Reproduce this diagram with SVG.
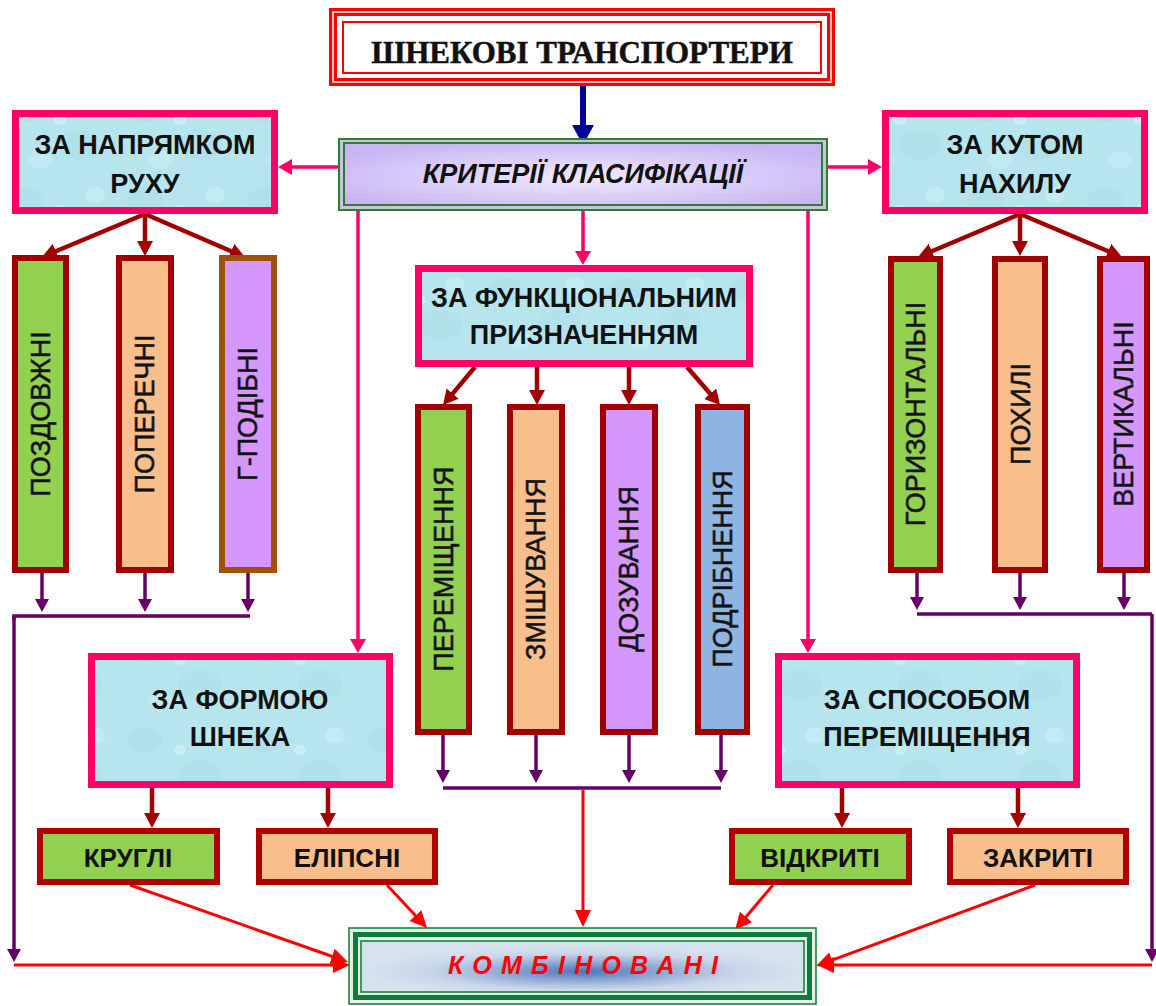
<svg xmlns="http://www.w3.org/2000/svg" width="1156" height="1006" viewBox="0 0 1156 1006">
<style>
.cat{fill:url(#water);stroke:#FF0066;stroke-width:7}
.ct{font-family:"Liberation Sans",Arial,sans-serif;font-weight:bold;font-size:27px;fill:#111;text-anchor:middle}
.vb{stroke:#A00000;stroke-width:6}
.vt{font-family:"Liberation Sans",Arial,sans-serif;font-size:27px;fill:#111;stroke:#222;stroke-width:0.6;text-anchor:middle}
.hb{stroke:#B00000;stroke-width:6}
.ht{font-family:"Liberation Sans",Arial,sans-serif;font-weight:bold;font-size:26px;fill:#111;text-anchor:middle}
.g{fill:#92D050}.p{fill:#F8BF8C}.v{fill:#D597FB}.b{fill:#8EB4E3}
.pk{stroke:#FF0066;stroke-width:3.5;fill:none;marker-end:url(#mPk)}
.dr{stroke:#A00000;stroke-width:4.5;fill:none;marker-end:url(#mDr)}
.pu{stroke:#660066;stroke-width:3.5;fill:none}
.pua{stroke:#660066;stroke-width:3.5;fill:none;marker-end:url(#mPu)}
.rd{stroke:#FF0000;stroke-width:3;fill:none;marker-end:url(#mRd)}
</style>
<defs>
<pattern id="water" patternUnits="userSpaceOnUse" width="120" height="90">
<rect width="120" height="90" fill="#B7E5EE"/>
<ellipse cx="25" cy="20" rx="18" ry="12" fill="#A3D8E3" opacity="0.35"/>
<ellipse cx="80" cy="55" rx="22" ry="15" fill="#A6DAE5" opacity="0.35"/>
<ellipse cx="95" cy="15" rx="10" ry="8" fill="#D3F2F7" opacity="0.45"/>
<ellipse cx="40" cy="70" rx="12" ry="9" fill="#D0F0F6" opacity="0.45"/>
<ellipse cx="60" cy="30" rx="6" ry="5" fill="#E0F6FA" opacity="0.45"/>
</pattern>
<radialGradient id="lav" cx="50%" cy="55%" r="60%">
<stop offset="0" stop-color="#F0EAFF"/>
<stop offset="1" stop-color="#C8B6F3"/>
</radialGradient>
<radialGradient id="comb" cx="50%" cy="60%" r="50%">
<stop offset="0" stop-color="#4A76BA"/>
<stop offset="0.35" stop-color="#8EA8D4"/>
<stop offset="0.7" stop-color="#C9D6EA"/>
<stop offset="1" stop-color="#D8E2EF"/>
</radialGradient>
<marker id="mNv" markerUnits="userSpaceOnUse" markerWidth="24" markerHeight="24" refX="2" refY="11" orient="auto"><path d="M0,0 L20,11 L0,22 z" fill="#000099"/></marker>
<marker id="mPk" markerUnits="userSpaceOnUse" markerWidth="18" markerHeight="18" refX="2" refY="8" orient="auto"><path d="M0,0 L14,8 L0,16 z" fill="#FF0066"/></marker>
<marker id="mDr" markerUnits="userSpaceOnUse" markerWidth="18" markerHeight="18" refX="2" refY="8" orient="auto"><path d="M0,0 L15,8 L0,16 z" fill="#A00000"/></marker>
<marker id="mPu" markerUnits="userSpaceOnUse" markerWidth="16" markerHeight="16" refX="2" refY="7" orient="auto"><path d="M0,0 L13,7 L0,14 z" fill="#660066"/></marker>
<marker id="mRd" markerUnits="userSpaceOnUse" markerWidth="20" markerHeight="18" refX="2" refY="8" orient="auto"><path d="M0,0 L17,8 L0,16 z" fill="#FF0000"/></marker>
</defs>
<rect width="1156" height="1006" fill="#FFFFFF"/>

<g id="connectors">
<line x1="583" y1="86" x2="583" y2="127" stroke="#000099" stroke-width="6" marker-end="url(#mNv)"/>
<line class="pk" x1="338" y1="167" x2="290" y2="167"/>
<line class="pk" x1="828" y1="167" x2="870" y2="167"/>
<line class="pk" x1="583" y1="211" x2="583" y2="253"/>
<line class="pk" x1="358" y1="211" x2="358" y2="641"/>
<line class="pk" x1="808" y1="211" x2="808" y2="641"/>
<line class="dr" x1="145" y1="214" x2="54" y2="252"/>
<line class="dr" x1="145" y1="214" x2="145" y2="243"/>
<line class="dr" x1="145" y1="214" x2="233" y2="252"/>
<line class="dr" x1="1020" y1="214" x2="930" y2="252"/>
<line class="dr" x1="1020" y1="214" x2="1020" y2="243"/>
<line class="dr" x1="1020" y1="214" x2="1110" y2="252"/>
<line class="dr" x1="475" y1="367" x2="451.4" y2="395.1"/>
<line class="dr" x1="537" y1="367" x2="537" y2="392"/>
<line class="dr" x1="629" y1="367" x2="629" y2="392"/>
<line class="dr" x1="687" y1="367" x2="711.5" y2="395.2"/>
<line class="dr" x1="152" y1="788" x2="152" y2="815"/>
<line class="dr" x1="328" y1="788" x2="328" y2="815"/>
<line class="dr" x1="842" y1="788" x2="842" y2="815"/>
<line class="dr" x1="1018" y1="788" x2="1018" y2="815"/>
<line class="pua" x1="42" y1="573" x2="42" y2="601"/>
<line class="pua" x1="145" y1="573" x2="145" y2="601"/>
<line class="pua" x1="248" y1="573" x2="248" y2="601"/>
<polyline class="pu" points="250,616 14,616 14,620"/>
<line class="pua" x1="14" y1="616" x2="14" y2="951"/>
<line class="pua" x1="443" y1="735" x2="443" y2="772"/>
<line class="pua" x1="536" y1="735" x2="536" y2="772"/>
<line class="pua" x1="629" y1="735" x2="629" y2="772"/>
<line class="pua" x1="721" y1="735" x2="721" y2="772"/>
<line class="pu" x1="443" y1="788" x2="721" y2="788"/>
<line class="pua" x1="917" y1="573" x2="917" y2="599"/>
<line class="pua" x1="1020" y1="573" x2="1020" y2="599"/>
<line class="pua" x1="1124" y1="573" x2="1124" y2="599"/>
<line class="pu" x1="917" y1="614" x2="1152" y2="614"/>
<line class="pua" x1="1152" y1="614" x2="1152" y2="951"/>
<line class="rd" x1="583" y1="790" x2="583" y2="912"/>
<line class="rd" x1="14" y1="965" x2="335" y2="965"/>
<line class="rd" x1="130" y1="885" x2="333.9" y2="957"/>
<line class="rd" x1="387" y1="885" x2="416.8" y2="917"/>
<line class="rd" x1="773" y1="885" x2="744.7" y2="918.5"/>
<line class="rd" x1="1035" y1="885" x2="830.1" y2="960.8"/>
<line class="rd" x1="1152" y1="965" x2="832" y2="965"/>
</g>

<g id="title">
<rect x="333" y="12" width="498" height="70" fill="none" stroke="#FF0000" stroke-width="8"/>
<rect x="333" y="12" width="498" height="70" fill="none" stroke="#FFFFFF" stroke-width="1.5"/>
<rect x="343" y="22" width="478" height="51" fill="#FFFFFF" stroke="#FF0000" stroke-width="2"/>
<text x="582" y="63" font-family="'Liberation Serif','Times New Roman',serif" font-weight="bold" font-size="31" fill="#111" stroke="#111" stroke-width="0.5" text-anchor="middle">ШНЕКОВІ ТРАНСПОРТЕРИ</text>
</g>

<g id="criteria">
<rect x="339" y="139" width="488" height="71" fill="#C9C4DC" stroke="#2E7D32" stroke-width="2"/>
<rect x="344" y="143" width="478" height="62" fill="url(#lav)" stroke="#2E7D32" stroke-width="2"/>
<text x="583" y="183" font-family="'Liberation Sans',Arial,sans-serif" font-weight="bold" font-style="italic" font-size="27" fill="#111" text-anchor="middle">КРИТЕРІЇ КЛАСИФІКАЦІЇ</text>
</g>

<g id="direction">
<rect class="cat" x="15.5" y="113.5" width="259" height="97"/>
<text class="ct" x="145" y="154">ЗА НАПРЯМКОМ</text>
<text class="ct" x="145" y="193">РУХУ</text>
</g>
<g id="angle">
<rect class="cat" x="885.5" y="113.5" width="259" height="97"/>
<text class="ct" x="1015" y="154">ЗА КУТОМ</text>
<text class="ct" x="1015" y="193">НАХИЛУ</text>
</g>
<g id="function">
<rect class="cat" x="418.5" y="268.5" width="331" height="95"/>
<text class="ct" x="584" y="307">ЗА ФУНКЦІОНАЛЬНИМ</text>
<text class="ct" x="584" y="344">ПРИЗНАЧЕННЯМ</text>
</g>
<g id="shape">
<rect class="cat" x="91.5" y="656.5" width="298" height="128"/>
<text class="ct" x="240" y="709">ЗА ФОРМОЮ</text>
<text class="ct" x="240" y="746">ШНЕКА</text>
</g>
<g id="method">
<rect class="cat" x="778.5" y="656.5" width="298" height="128"/>
<text class="ct" x="927" y="709">ЗА СПОСОБОМ</text>
<text class="ct" x="927" y="746">ПЕРЕМІЩЕННЯ</text>
</g>

<g id="longitudinal"><rect class="vb g" x="15" y="258" width="51" height="312"/><text class="vt" transform="translate(50,414) rotate(-90)">ПОЗДОВЖНІ</text></g>
<g id="transverse"><rect class="vb p" x="119" y="258" width="52" height="312"/><text class="vt" transform="translate(154,414) rotate(-90)">ПОПЕРЕЧНІ</text></g>
<g id="l-shaped"><rect class="p v" x="222" y="258" width="52" height="312" stroke="#A0500A" stroke-width="6"/><text class="vt" transform="translate(257,414) rotate(-90)">Г-ПОДІБНІ</text></g>

<g id="moving"><rect class="vb g" x="418" y="407" width="51" height="325"/><text class="vt" transform="translate(453,569) rotate(-90)">ПЕРЕМІЩЕННЯ</text></g>
<g id="mixing"><rect class="vb p" x="510" y="407" width="52" height="325"/><text class="vt" transform="translate(545,569) rotate(-90)">ЗМІШУВАННЯ</text></g>
<g id="dosing"><rect class="vb v" x="603" y="407" width="52" height="325"/><text class="vt" transform="translate(638,569) rotate(-90)">ДОЗУВАННЯ</text></g>
<g id="grinding"><rect class="vb b" x="698" y="407" width="49" height="325"/><text class="vt" transform="translate(732,569) rotate(-90)">ПОДРІБНЕННЯ</text></g>

<g id="horizontal"><rect class="vb g" x="891" y="259" width="49" height="311"/><text class="vt" transform="translate(925,414) rotate(-90)">ГОРИЗОНТАЛЬНІ</text></g>
<g id="inclined"><rect class="vb p" x="995" y="259" width="50" height="311"/><text class="vt" transform="translate(1030,414) rotate(-90)">ПОХИЛІ</text></g>
<g id="vertical"><rect class="vb v" x="1100" y="259" width="47" height="311"/><text class="vt" transform="translate(1133,414) rotate(-90)">ВЕРТИКАЛЬНІ</text></g>

<g id="round"><rect class="hb g" x="40" y="831" width="177" height="51"/><text class="ht" x="128" y="867">КРУГЛІ</text></g>
<g id="elliptic"><rect class="hb p" x="259" y="831" width="176" height="51"/><text class="ht" x="347" y="867">ЕЛІПСНІ</text></g>
<g id="open"><rect class="hb g" x="732" y="831" width="177" height="51"/><text class="ht" x="820" y="867">ВІДКРИТІ</text></g>
<g id="closed"><rect class="hb p" x="950" y="831" width="176" height="51"/><text class="ht" x="1038" y="867">ЗАКРИТІ</text></g>

<g id="combined">
<rect x="349" y="928" width="467" height="76" fill="#E6F0E8" stroke="#0A7D3A" stroke-width="1.5"/>
<rect x="355.5" y="934.5" width="454" height="63" fill="none" stroke="#0A7D3A" stroke-width="5"/>
<rect x="361" y="941" width="443" height="51" fill="url(#comb)" stroke="#0A7D3A" stroke-width="1.5"/>
<text x="448" y="974" textLength="270" lengthAdjust="spacing" font-family="'Liberation Sans',Arial,sans-serif" font-weight="bold" font-style="italic" font-size="25" fill="#FF0000">КОМБІНОВАНІ</text>
</g>
</svg>
